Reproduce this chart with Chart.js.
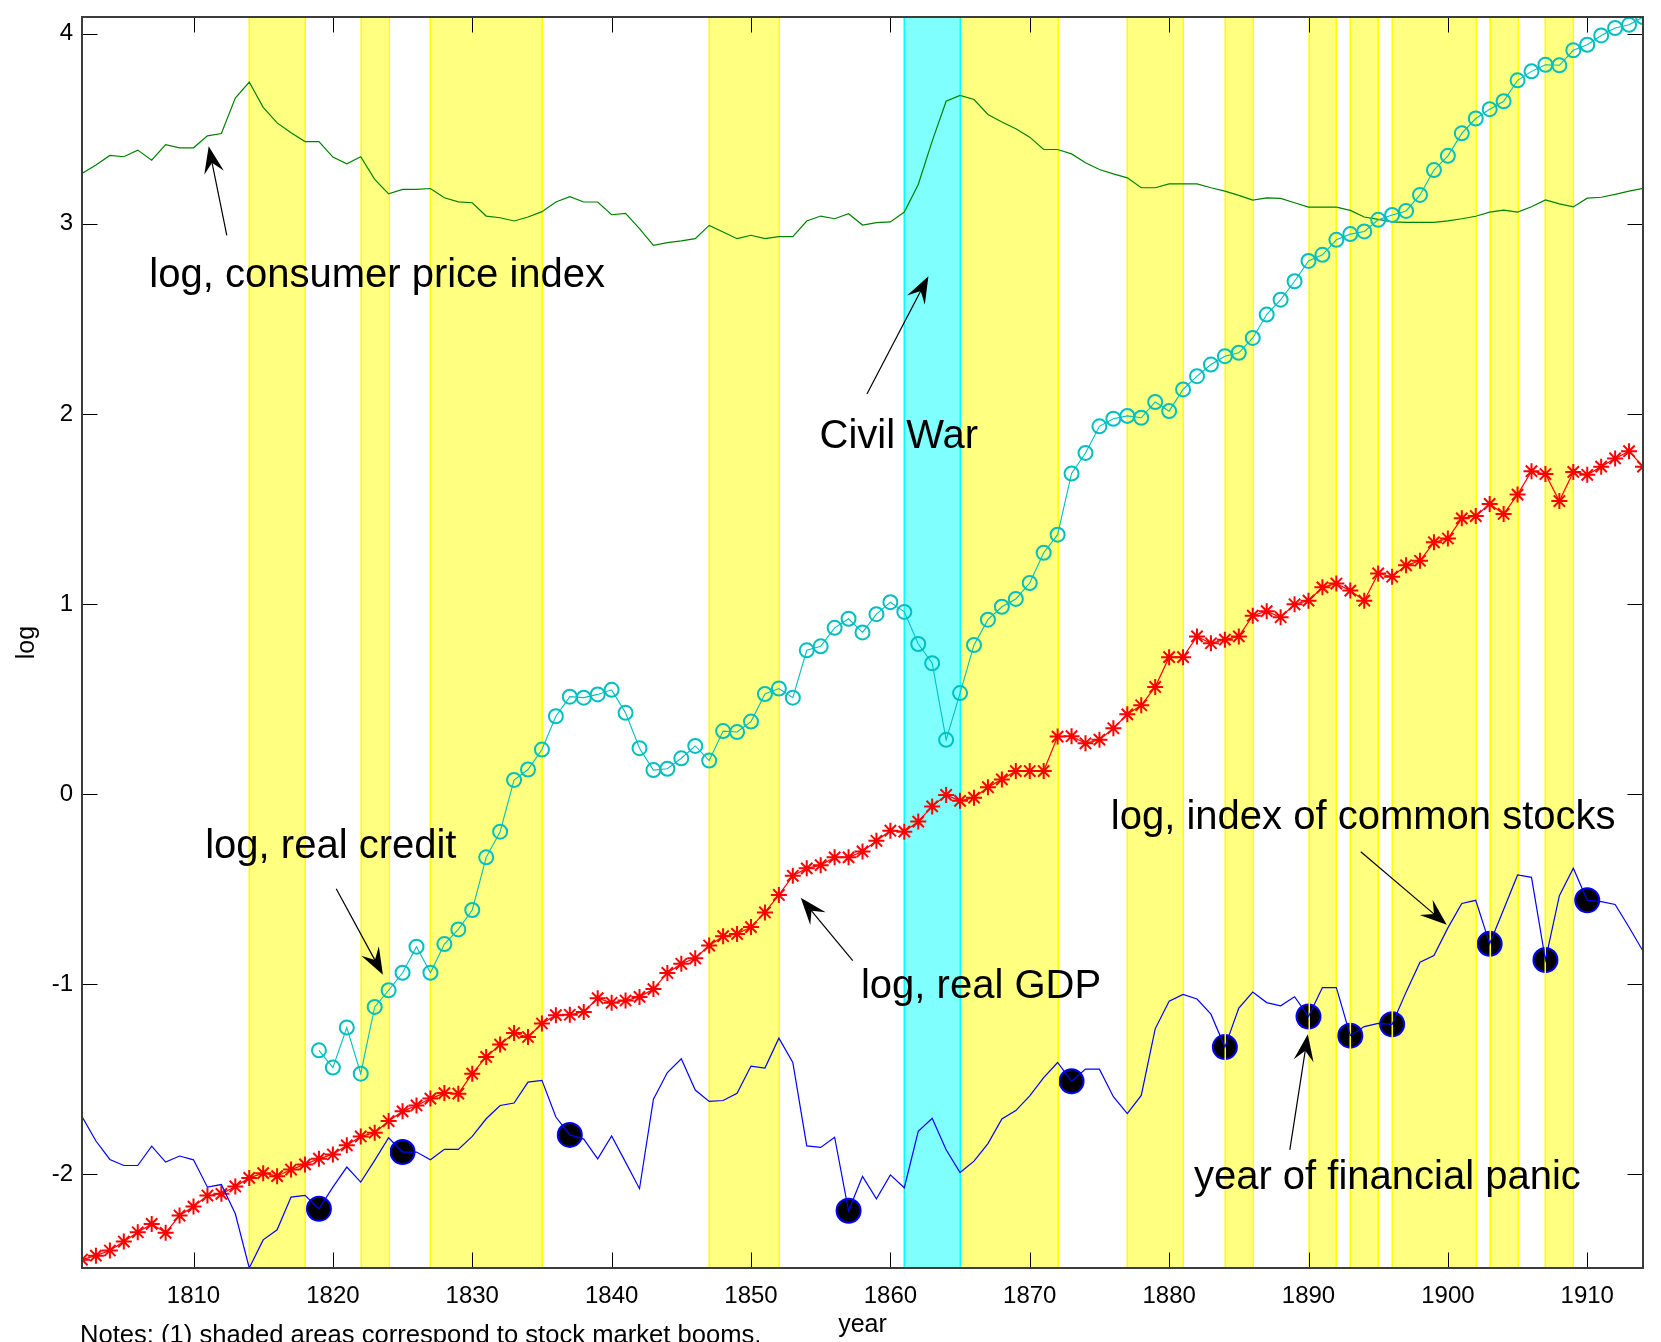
<!DOCTYPE html>
<html><head><meta charset="utf-8">
<script src="https://cdn.jsdelivr.net/npm/chart.js@4.4.1/dist/chart.umd.min.js"></script>
<style>html,body{margin:0;padding:0;background:#fff;overflow:hidden}</style>
</head><body>
<canvas id="c" width="1661" height="1342"></canvas>
<script>
// ---------------- DATA ----------------
const years = [1802,1803,1804,1805,1806,1807,1808,1809,1810,1811,1812,1813,1814,1815,1816,1817,1818,1819,1820,1821,1822,1823,1824,1825,1826,1827,1828,1829,1830,1831,1832,1833,1834,1835,1836,1837,1838,1839,1840,1841,1842,1843,1844,1845,1846,1847,1848,1849,1850,1851,1852,1853,1854,1855,1856,1857,1858,1859,1860,1861,1862,1863,1864,1865,1866,1867,1868,1869,1870,1871,1872,1873,1874,1875,1876,1877,1878,1879,1880,1881,1882,1883,1884,1885,1886,1887,1888,1889,1890,1891,1892,1893,1894,1895,1896,1897,1898,1899,1900,1901,1902,1903,1904,1905,1906,1907,1908,1909,1910,1911,1912,1913,1914];

// log, consumer price index
const cpi = [3.265,3.31,3.36,3.353,3.388,3.335,3.417,3.40,3.40,3.463,3.475,3.662,3.746,3.613,3.531,3.479,3.433,3.433,3.351,3.316,3.353,3.234,3.158,3.181,3.181,3.186,3.137,3.116,3.111,3.041,3.032,3.015,3.036,3.064,3.115,3.143,3.115,3.115,3.048,3.055,2.975,2.887,2.901,2.910,2.922,2.992,2.957,2.922,2.940,2.922,2.933,2.933,3.015,3.041,3.027,3.053,2.994,3.006,3.010,3.062,3.207,3.435,3.645,3.676,3.654,3.575,3.536,3.500,3.456,3.391,3.391,3.368,3.321,3.286,3.263,3.242,3.190,3.190,3.21,3.21,3.21,3.19,3.172,3.150,3.125,3.137,3.134,3.111,3.088,3.088,3.088,3.071,3.036,3.024,3.010,3.008,3.008,3.008,3.016,3.027,3.040,3.062,3.072,3.062,3.090,3.126,3.105,3.089,3.135,3.140,3.155,3.172,3.187];

// log, real credit (starts 1819)
const credit = [null,null,null,null,null,null,null,null,null,null,null,null,null,null,null,null,null,
-1.347,-1.438,-1.227,-1.470,-1.119,-1.031,-0.939,-0.802,-0.939,-0.788,-0.711,-0.609,-0.332,-0.197,0.075,0.13,0.235,0.41,0.513,0.508,0.525,0.549,0.428,0.242,0.127,0.134,0.189,0.254,0.177,0.332,0.327,0.382,0.527,0.556,0.508,0.757,0.778,0.875,0.923,0.851,0.947,1.010,0.959,0.790,0.689,0.286,0.532,0.785,0.918,0.986,1.027,1.111,1.27,1.365,1.687,1.795,1.935,1.975,1.99,1.98,2.063,2.015,2.129,2.199,2.26,2.304,2.322,2.40,2.523,2.601,2.698,2.805,2.837,2.916,2.946,2.960,3.021,3.047,3.068,3.152,3.283,3.358,3.476,3.554,3.603,3.645,3.755,3.802,3.837,3.834,3.913,3.942,3.991,4.03,4.047,4.088];

// log, real GDP
const gdp = [-2.448,-2.427,-2.400,-2.353,-2.304,-2.260,-2.307,-2.216,-2.169,-2.111,-2.102,-2.063,-2.018,-1.993,-2.009,-1.974,-1.947,-1.917,-1.895,-1.847,-1.800,-1.780,-1.719,-1.668,-1.637,-1.601,-1.572,-1.575,-1.470,-1.382,-1.317,-1.256,-1.277,-1.206,-1.162,-1.160,-1.145,-1.073,-1.097,-1.085,-1.066,-1.025,-0.940,-0.892,-0.863,-0.796,-0.747,-0.735,-0.699,-0.622,-0.530,-0.429,-0.390,-0.373,-0.332,-0.332,-0.301,-0.245,-0.192,-0.197,-0.144,-0.064,-0.004,-0.035,-0.018,0.037,0.078,0.122,0.122,0.122,0.303,0.305,0.268,0.287,0.347,0.420,0.468,0.564,0.721,0.721,0.830,0.794,0.813,0.830,0.939,0.963,0.931,0.999,1.018,1.088,1.108,1.071,1.018,1.161,1.144,1.204,1.228,1.325,1.345,1.451,1.463,1.527,1.474,1.576,1.699,1.684,1.542,1.695,1.680,1.723,1.766,1.804,1.723];

// log, index of common stocks
const stocks = [-1.695,-1.824,-1.921,-1.953,-1.953,-1.851,-1.935,-1.903,-1.923,-2.067,-2.053,-2.207,-2.492,-2.344,-2.291,-2.119,-2.110,-2.181,-2.067,-1.961,-2.040,-1.926,-1.807,-1.882,-1.882,-1.923,-1.868,-1.868,-1.800,-1.707,-1.637,-1.624,-1.514,-1.505,-1.698,-1.792,-1.814,-1.918,-1.797,-1.935,-2.075,-1.604,-1.464,-1.392,-1.556,-1.616,-1.611,-1.573,-1.430,-1.440,-1.283,-1.411,-1.850,-1.858,-1.804,-2.191,-2.010,-2.128,-2.002,-2.070,-1.773,-1.705,-1.870,-1.990,-1.930,-1.838,-1.708,-1.664,-1.587,-1.491,-1.411,-1.510,-1.446,-1.446,-1.591,-1.680,-1.584,-1.234,-1.089,-1.053,-1.077,-1.157,-1.330,-1.125,-1.041,-1.096,-1.113,-1.065,-1.169,-1.017,-1.017,-1.270,-1.222,-1.205,-1.210,-1.041,-0.884,-0.848,-0.703,-0.575,-0.558,-0.787,-0.606,-0.425,-0.437,-0.872,-0.534,-0.389,-0.558,-0.565,-0.58,-0.70,-0.825];

// years of financial panic
const panicYears = [1819,1825,1837,1857,1873,1884,1890,1893,1896,1903,1907,1910];

// shaded areas: stock market booms and the Civil War
const boomStart = [1814,1822,1827,1847,1865,1877,1884,1890,1893,1896,1903,1907];
const boomEnd   = [1818,1824,1835,1852,1872,1881,1886,1892,1895,1902,1905,1909];
const warStart = [1861];
const warEnd   = [1865];

// axis ranges and tick labels
const xMin = 1802, xMax = 1914;
const yMin = -2.492, yMax = 4.088;
const xTickValues = [1810,1820,1830,1840,1850,1860,1870,1880,1890,1900,1910];
const yTickValues = [-2,-1,0,1,2,3,4];

// text annotations (positioned in data coordinates)
const labels = [
  {text:'log, consumer price index', x:1806.83, y:2.668},
  {text:'Civil War', x:1854.92, y:1.822},
  {text:'log, real credit', x:1810.84, y:-0.338},
  {text:'log, real GDP', x:1857.89, y:-1.070},
  {text:'log, index of common stocks', x:1875.82, y:-0.182},
  {text:'year of financial panic', x:1881.78, y:-2.076}
];
const arrows = [
  {from:[1812.39, 2.940], to:[1811.09, 3.408]},
  {from:[1858.32, 2.105], to:[1862.73, 2.725]},
  {from:[1820.24,-0.497], to:[1823.59,-0.950]},
  {from:[1857.30,-0.875], to:[1853.57,-0.545]},
  {from:[1893.75,-0.303], to:[1899.92,-0.687]},
  {from:[1888.66,-1.871], to:[1889.95,-1.262]}
];
const notesText = 'Notes: (1) shaded areas correspond to stock market booms.';

// ---------------- CHART ----------------
const FONT = '"Liberation Sans", Arial, Helvetica, sans-serif';
const W = 1661, H = 1342;
const AREA = {left: 82, right: 1643, top: 17, bottom: 1268};

const toXY = (arr) => years.map((yr, i) => ({x: yr, y: arr[i]})).filter(p => p.y !== null);
const panicPts = panicYears.map(yr => ({x: yr, y: stocks[years.indexOf(yr)]}));

const PANIC_INDEX = 0;

const matlabPlugin = {
  id: 'matlabStyle',
  beforeDatasetsDraw(chart) {
    const {ctx, chartArea: a, scales: {x}} = chart;
    ctx.save();
    const band = (s, e, fill) => {
      const x0 = x.getPixelForValue(s), x1 = x.getPixelForValue(e);
      ctx.fillStyle = fill;
      ctx.fillRect(x0, a.top, x1 - x0, a.bottom - a.top);
    };
    boomStart.forEach((s, i) => band(s, boomEnd[i], '#ffff80'));
    warStart.forEach((s, i) => band(s, warEnd[i], '#80ffff'));
    ctx.restore();
  },
  afterDatasetDraw(chart, args) {
    if (args.index !== PANIC_INDEX) return;
    const {ctx, chartArea: a, scales: {x}} = chart;
    ctx.save();
    ctx.lineWidth = 1.5;
    const edge = (v, col) => {
      const px = Math.round(x.getPixelForValue(v)) + 0.25;
      ctx.strokeStyle = col;
      ctx.beginPath(); ctx.moveTo(px, a.top); ctx.lineTo(px, a.bottom); ctx.stroke();
    };
    boomStart.forEach((s, i) => { edge(s, '#ffff00'); edge(boomEnd[i], '#ffff00'); });
    warStart.forEach((s, i) => { edge(s, '#00ffff'); edge(warEnd[i], '#00ffff'); });
    ctx.restore();
  },
  afterDatasetsDraw(chart) {
    const {ctx, chartArea: a, scales: {x, y}} = chart;
    ctx.save();
    const TL = 15.5;
    ctx.strokeStyle = '#000';
    ctx.lineWidth = 1;
    ctx.beginPath();
    xTickValues.forEach(v => {
      const px = Math.round(x.getPixelForValue(v)) + 0.5;
      ctx.moveTo(px, a.bottom); ctx.lineTo(px, a.bottom - TL);
      ctx.moveTo(px, a.top); ctx.lineTo(px, a.top + TL);
    });
    yTickValues.forEach(v => {
      const py = Math.round(y.getPixelForValue(v)) + 0.5;
      ctx.moveTo(a.left, py); ctx.lineTo(a.left + TL, py);
      ctx.moveTo(a.right, py); ctx.lineTo(a.right - TL, py);
    });
    ctx.stroke();
    ctx.strokeStyle = '#3c3c3c';
    ctx.lineWidth = 2;
    ctx.strokeRect(a.left, a.top, a.right - a.left, a.bottom - a.top);
    ctx.restore();
  },
  afterDraw(chart) {
    const {ctx, scales: {x, y}} = chart;
    ctx.save();
    ctx.fillStyle = '#000';
    ctx.strokeStyle = '#000';
    ctx.font = '40px ' + FONT;
    ctx.textBaseline = 'alphabetic';
    ctx.textAlign = 'left';
    labels.forEach(l => ctx.fillText(l.text, x.getPixelForValue(l.x), y.getPixelForValue(l.y)));
    arrows.forEach(ar => {
      const x0 = x.getPixelForValue(ar.from[0]), y0 = y.getPixelForValue(ar.from[1]);
      const x1 = x.getPixelForValue(ar.to[0]), y1 = y.getPixelForValue(ar.to[1]);
      const dx = x1 - x0, dy = y1 - y0, len = Math.hypot(dx, dy);
      const ux = dx / len, uy = dy / len, px = -uy, py = ux;
      const L = 27, Wd = 10;
      ctx.lineWidth = 1.2;
      ctx.beginPath(); ctx.moveTo(x0, y0); ctx.lineTo(x1 - ux * L * 0.6, y1 - uy * L * 0.6); ctx.stroke();
      ctx.beginPath();
      ctx.moveTo(x1, y1);
      ctx.lineTo(x1 - ux * L + px * Wd, y1 - uy * L + py * Wd);
      ctx.lineTo(x1 - ux * L * 0.62, y1 - uy * L * 0.62);
      ctx.lineTo(x1 - ux * L - px * Wd, y1 - uy * L - py * Wd);
      ctx.closePath();
      ctx.fill();
    });
    ctx.font = '25.6px ' + FONT;
    ctx.fillText(notesText, 80, 1343);
    ctx.restore();
  }
};

new Chart(document.getElementById('c'), {
  type: 'line',
  data: {
    datasets: [
      {label: 'year of financial panic', data: panicPts, showLine: false, order: 10,
       pointStyle: 'circle', pointRadius: 12, pointBackgroundColor: '#000', pointBorderColor: '#0000ff', pointBorderWidth: 2},
      {label: 'log, consumer price index', data: toXY(cpi), borderColor: '#008000', borderWidth: 1.2, pointRadius: 0, order: 5},
      {label: 'log, real credit', data: toXY(credit), borderColor: '#00bfbf', borderWidth: 1.1,
       pointStyle: 'circle', pointRadius: 7, pointBorderWidth: 2, pointBorderColor: '#00bfbf', pointBackgroundColor: 'rgba(0,0,0,0)', order: 4},
      {label: 'log, real GDP', data: toXY(gdp), borderColor: '#ff0000', borderWidth: 1.2,
       pointStyle: 'star', pointRadius: 8, pointBorderWidth: 2, pointBorderColor: '#ff0000', pointBackgroundColor: '#ff0000', order: 3},
      {label: 'log, index of common stocks', data: toXY(stocks), borderColor: '#0000ff', borderWidth: 1.2, pointRadius: 0, order: 2}
    ]
  },
  options: {
    responsive: false,
    devicePixelRatio: 1,
    animation: false,
    events: [],
    layout: {padding: {left: 0, right: W - AREA.right, top: AREA.top, bottom: 0}},
    elements: {line: {tension: 0}},
    plugins: {legend: {display: false}, tooltip: {enabled: false}, title: {display: false}},
    scales: {
      x: {
        type: 'linear', min: xMin, max: xMax,
        afterBuildTicks: s => { s.ticks = xTickValues.map(v => ({value: v})); },
        afterFit: s => { s.height = H - AREA.bottom; s.paddingLeft = 0; s.paddingRight = 0; },
        grid: {display: false, drawTicks: false}, border: {display: false},
        ticks: {padding: 14, color: '#000', font: {family: FONT, size: 24}, maxRotation: 0, autoSkip: false, callback: v => String(v)},
        title: {display: true, text: 'year', color: '#000', font: {family: FONT, size: 25}, padding: {top: 0, bottom: 2}}
      },
      y: {
        type: 'linear', min: yMin, max: yMax,
        afterBuildTicks: s => { s.ticks = yTickValues.map(v => ({value: v})); },
        afterFit: s => { s.width = AREA.left; s.paddingTop = 0; s.paddingBottom = 0; },
        grid: {display: false, drawTicks: false}, border: {display: false},
        ticks: {padding: 9, color: '#000', font: {family: FONT, size: 24}, autoSkip: false, callback: v => String(v)},
        title: {display: true, text: 'log', color: '#000', font: {family: FONT, size: 25}, padding: {top: 12, bottom: 0}}
      }
    }
  },
  plugins: [matlabPlugin]
});
</script>
</body></html>
